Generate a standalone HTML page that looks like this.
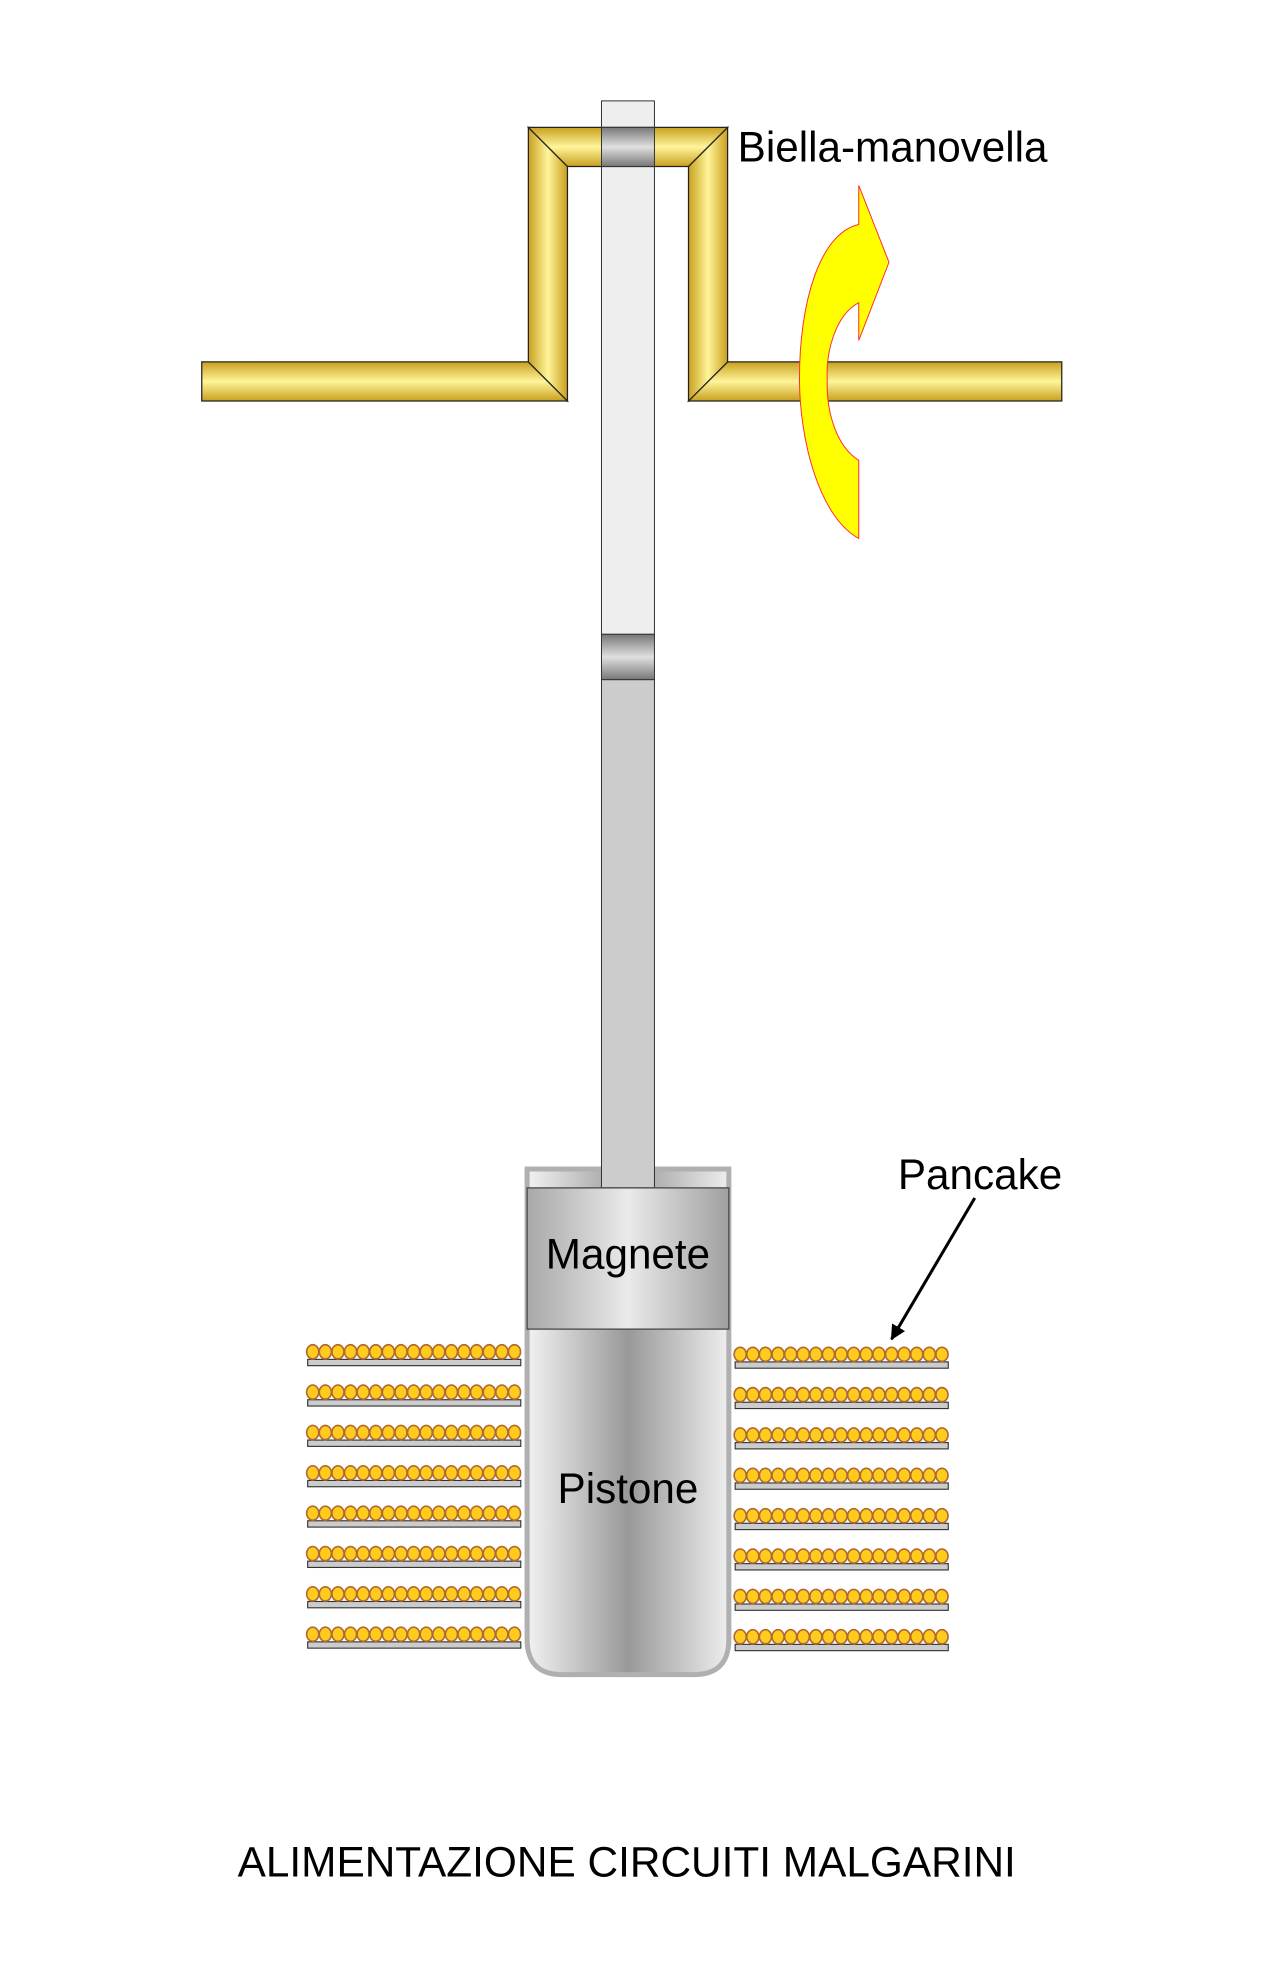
<!DOCTYPE html>
<html><head><style>html,body{margin:0;padding:0;background:#fff}svg{display:block}</style></head>
<body>
<svg width="1261" height="1973" viewBox="0 0 1000 1564.6" xmlns="http://www.w3.org/2000/svg" font-family="Liberation Sans, sans-serif">
<defs>
<linearGradient id="gh" x1="0" y1="0" x2="0" y2="1"><stop offset="0" stop-color="#c9a01e"/><stop offset="0.5" stop-color="#fff59a"/><stop offset="1" stop-color="#c9a01e"/></linearGradient>
<linearGradient id="gv" x1="0" y1="0" x2="1" y2="0"><stop offset="0" stop-color="#c9a01e"/><stop offset="0.5" stop-color="#fff59a"/><stop offset="1" stop-color="#c9a01e"/></linearGradient>
<linearGradient id="band" x1="0" y1="0" x2="0" y2="1"><stop offset="0" stop-color="#777"/><stop offset="0.5" stop-color="#e0e0e0"/><stop offset="1" stop-color="#777"/></linearGradient>
<linearGradient id="cyl" x1="0" y1="0" x2="1" y2="0"><stop offset="0" stop-color="#f2f2f2"/><stop offset="0.5" stop-color="#999"/><stop offset="1" stop-color="#eee"/></linearGradient>
<linearGradient id="mag" x1="0" y1="0" x2="1" y2="0"><stop offset="0" stop-color="#a8a8a8"/><stop offset="0.5" stop-color="#eaeaea"/><stop offset="1" stop-color="#a0a0a0"/></linearGradient>
<marker id="ah" markerWidth="12" markerHeight="12" refX="11" refY="6" orient="auto" markerUnits="userSpaceOnUse"><path d="M0,0 L12,6 L0,12 Z"/></marker>
<g id="row">
<ellipse cx="248" cy="1072" rx="4.8" ry="5.6"/><ellipse cx="258" cy="1072" rx="4.8" ry="5.6"/><ellipse cx="268" cy="1072" rx="4.8" ry="5.6"/><ellipse cx="278" cy="1072" rx="4.8" ry="5.6"/><ellipse cx="288" cy="1072" rx="4.8" ry="5.6"/><ellipse cx="298" cy="1072" rx="4.8" ry="5.6"/><ellipse cx="308" cy="1072" rx="4.8" ry="5.6"/><ellipse cx="318" cy="1072" rx="4.8" ry="5.6"/><ellipse cx="328" cy="1072" rx="4.8" ry="5.6"/><ellipse cx="338" cy="1072" rx="4.8" ry="5.6"/><ellipse cx="348" cy="1072" rx="4.8" ry="5.6"/><ellipse cx="358" cy="1072" rx="4.8" ry="5.6"/><ellipse cx="368" cy="1072" rx="4.8" ry="5.6"/><ellipse cx="378" cy="1072" rx="4.8" ry="5.6"/><ellipse cx="388" cy="1072" rx="4.8" ry="5.6"/><ellipse cx="398" cy="1072" rx="4.8" ry="5.6"/><ellipse cx="408" cy="1072" rx="4.8" ry="5.6"/>
</g>
</defs>

<rect x="477" y="80" width="42" height="423" fill="#eee" stroke="#333" stroke-width="0.8"/>
<g stroke="#222" stroke-width="1">
<path d="M160,287 L419,287 L450,318 L160,318 Z" fill="url(#gh)"/>
<path d="M842,287 L577,287 L546,318 L842,318 Z" fill="url(#gh)"/>
<path d="M419,101 L419,287 L450,318 L450,132 Z" fill="url(#gv)"/>
<path d="M577,101 L577,287 L546,318 L546,132 Z" fill="url(#gv)"/>
<path d="M419,101 L577,101 L546,132 L450,132 Z" fill="url(#gh)"/>
</g>
<rect x="477" y="101" width="42" height="31" fill="url(#band)" stroke="#333" stroke-width="0.8"/>
<path d="M681,147 L705,208 L681,270 L681,240 C662,250 655,280 656,300 C655,330 665,355 681,365 L681,427 C650,410 634,350 634,300 C634,240 650,185 681,178 Z" fill="#ffff00" stroke="#ff3030" stroke-width="0.8"/>
<text x="585" y="128" font-size="33.5">Biella-manovella</text>
<rect x="477" y="503" width="42" height="36" fill="url(#band)" stroke="#333" stroke-width="0.8"/>
<path d="M418,927 L578,927 L578,1300 Q578,1328 550,1328 L446,1328 Q418,1328 418,1300 Z" fill="url(#cyl)" stroke="#b0b0b0" stroke-width="4"/>
<rect x="477" y="539" width="42" height="403" fill="#ccc" stroke="#333" stroke-width="0.8"/>
<rect x="418" y="942" width="160" height="112" fill="url(#mag)" stroke="#444" stroke-width="1"/>
<text x="498" y="1006" font-size="33.5" text-anchor="middle">Magnete</text>
<text x="498" y="1192" font-size="33.5" text-anchor="middle">Pistone</text>
<g stroke="#333" stroke-width="0.9" fill="#ccc">
<rect x="244" y="1078" width="169" height="5"/><rect x="244" y="1110" width="169" height="5"/><rect x="244" y="1142" width="169" height="5"/><rect x="244" y="1174" width="169" height="5"/><rect x="244" y="1206" width="169" height="5"/><rect x="244" y="1238" width="169" height="5"/><rect x="244" y="1270" width="169" height="5"/><rect x="244" y="1302" width="169" height="5"/>
<rect x="583" y="1080" width="169" height="5"/><rect x="583" y="1112" width="169" height="5"/><rect x="583" y="1144" width="169" height="5"/><rect x="583" y="1176" width="169" height="5"/><rect x="583" y="1208" width="169" height="5"/><rect x="583" y="1240" width="169" height="5"/><rect x="583" y="1272" width="169" height="5"/><rect x="583" y="1304" width="169" height="5"/>
</g>
<g fill="#ffcc1e" stroke="#b06a30" stroke-width="1.3">
<use href="#row"/><use href="#row" y="32"/><use href="#row" y="64"/><use href="#row" y="96"/><use href="#row" y="128"/><use href="#row" y="160"/><use href="#row" y="192"/><use href="#row" y="224"/>
<use href="#row" x="339" y="2"/><use href="#row" x="339" y="34"/><use href="#row" x="339" y="66"/><use href="#row" x="339" y="98"/><use href="#row" x="339" y="130"/><use href="#row" x="339" y="162"/><use href="#row" x="339" y="194"/><use href="#row" x="339" y="226"/>
</g>
<text x="712" y="943" font-size="33.5">Pancake</text>
<line x1="773" y1="950" x2="707" y2="1062" stroke="#000" stroke-width="2.4" marker-end="url(#ah)"/>
<text x="497" y="1488" font-size="33.6" text-anchor="middle">ALIMENTAZIONE CIRCUITI MALGARINI</text>
</svg>
</body></html>
